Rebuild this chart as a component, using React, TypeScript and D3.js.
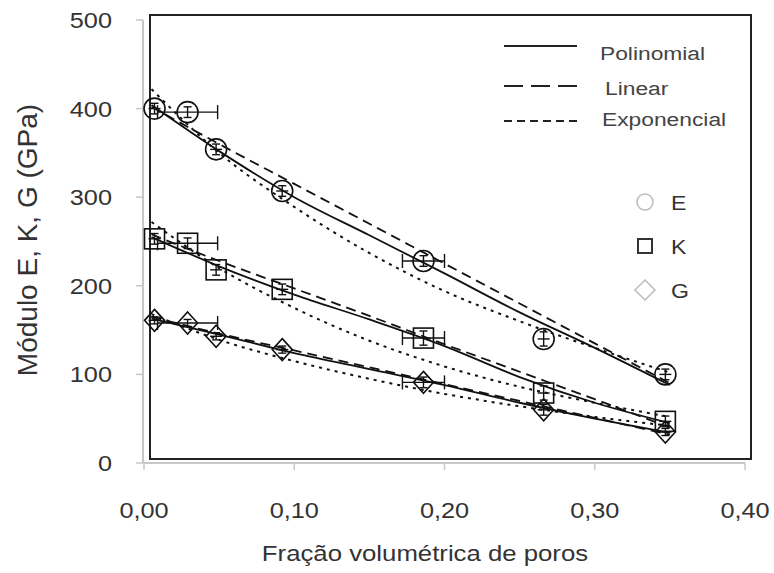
import React from "react";
import * as d3 from "d3";

// measured points
const poreX = [0.007, 0.029, 0.048, 0.092, 0.186, 0.266, 0.347];
const valuesE = [400, 396, 354, 307, 228, 140, 100];
const valuesK = [253, 248, 218, 196, 141, 79, 47];
const valuesG = [161, 158, 143, 128, 91, 60, 35];
const xErrors = [0, 0.02, 0, 0, 0.014, 0, 0];
const yErrorE = [6, 6, 6, 6, 6, 8, 6];
const yErrorK = [6, 6, 6, 6, 8, 8, 6];
const yErrorG = [4, 4, 4, 4, 6, 6, 4];

// fitted curves
const fitX = [0.005, 0.05, 0.1, 0.15, 0.2, 0.25, 0.3, 0.35];
const fitEPoly = [404, 352, 300, 257, 214, 170, 130, 88];
const fitELin = [402, 360, 315, 270, 225, 180, 135, 90];
const fitEExp = [422, 350, 289, 237, 194, 160, 130, 102];
const fitKPoly = [255, 222, 190, 162, 132, 97, 68, 45];
const fitKLin = [258, 228, 197, 166, 134, 103, 72, 40];
const fitKExp = [272, 220, 175, 138, 109, 86, 68, 52];
const fitGPoly = [163, 145, 124, 106, 88, 68, 50, 34];
const fitGLin = [165, 146, 127, 108, 89, 70, 51, 32];
const fitGExp = [168, 139, 115, 95, 78, 64, 52, 42];

const xTicks = [0, 0.1, 0.2, 0.3, 0.4];
const yTicks = [0, 100, 200, 300, 400, 500];
const fitLegend = ["Polinomial", "Linear", "Exponencial"];
const seriesLegend = ["E", "K", "G"];

const W = 774;
const H = 573;
const FONT = "'Liberation Sans', Arial, sans-serif";

function T(props: {
  x: number;
  y: number;
  size: number;
  sx?: number;
  anchor?: string;
  fill?: string;
  children: React.ReactNode;
}) {
  const sx = props.sx ?? 1.15;
  return (
    <text
      transform={`translate(${props.x},${props.y}) scale(${sx},1)`}
      dy="0.36em"
      textAnchor={props.anchor ?? "start"}
      fontSize={props.size}
      fill={props.fill ?? "#333"}
    >
      {props.children}
    </text>
  );
}

export default function App() {
  const x = d3.scaleLinear().domain([0, 0.4]).range([144, 745]);
  const y = d3.scaleLinear().domain([0, 500]).range([463, 20]);
  const line = d3
    .line<number>()
    .x((_, i) => x(fitX[i]))
    .y((d) => y(d))
    .curve(d3.curveMonotoneX);

  const fits = [
    { vals: fitEPoly, dash: undefined },
    { vals: fitELin, dash: "10,6" },
    { vals: fitEExp, dash: "3,5" },
    { vals: fitKPoly, dash: undefined },
    { vals: fitKLin, dash: "10,6" },
    { vals: fitKExp, dash: "3,5" },
    { vals: fitGPoly, dash: undefined },
    { vals: fitGLin, dash: "10,6" },
    { vals: fitGExp, dash: "3,5" },
  ];

  const series = [
    { vals: valuesE, yerr: yErrorE, shape: "circle" },
    { vals: valuesK, yerr: yErrorK, shape: "square" },
    { vals: valuesG, yerr: yErrorG, shape: "diamond" },
  ];

  const marker = (shape: string, cx: number, cy: number, stroke: string, sw: number) => {
    if (shape === "circle")
      return <circle cx={cx} cy={cy} r={10.5} fill="none" stroke={stroke} strokeWidth={sw} />;
    if (shape === "square")
      return <rect x={cx - 10} y={cy - 10} width={20} height={20} fill="none" stroke={stroke} strokeWidth={sw} />;
    return (
      <path
        d={`M${cx},${cy - 11}L${cx + 10},${cy}L${cx},${cy + 11}L${cx - 10},${cy}Z`}
        fill="none"
        stroke={stroke}
        strokeWidth={sw}
      />
    );
  };

  return (
    <svg
      width={W}
      height={H}
      style={{ position: "absolute", left: 0, top: 0, background: "#fff" }}
      fontFamily={FONT}
    >
      {/* gray axes */}
      <line x1={143} y1={y(500)} x2={143} y2={y(0)} stroke="#c8c8c8" strokeWidth={2} />
      <line x1={143} y1={y(0)} x2={x(0.4)} y2={y(0)} stroke="#c8c8c8" strokeWidth={2} />
      {yTicks.map((t) => (
        <g key={"yt" + t}>
          <line x1={136} x2={143} y1={y(t)} y2={y(t)} stroke="#c8c8c8" strokeWidth={1.5} />
          <T x={112} y={y(t)} size={22} anchor="end">
            {t}
          </T>
        </g>
      ))}
      {xTicks.map((t) => (
        <g key={"xt" + t}>
          <line x1={x(t)} x2={x(t)} y1={y(0)} y2={y(0) + 7} stroke="#c8c8c8" strokeWidth={1.5} />
          <T x={x(t)} y={510} size={22} anchor="middle">
            {d3.format(".2f")(t).replace(".", ",")}
          </T>
        </g>
      ))}
      <T x={425} y={553} size={23} sx={1.12} anchor="middle">
        Fração volumétrica de poros
      </T>
      <text
        transform="translate(27,240) rotate(-90)"
        textAnchor="middle"
        dy="0.36em"
        fontSize={28}
        fill="#333"
      >
        Módulo E, K, G (GPa)
      </text>

      {/* plot frame */}
      <rect x={150} y={15} width={601} height={444} fill="none" stroke="#222" strokeWidth={2} />

      {/* fit lines */}
      {fits.map((f, i) => (
        <path
          key={"fit" + i}
          d={line(f.vals) || ""}
          fill="none"
          stroke="#111"
          strokeWidth={f.dash === "3,5" ? 2 : 1.8}
          strokeDasharray={f.dash}
        />
      ))}

      {/* data markers with error bars */}
      {series.map((s, si) =>
        s.vals.map((v, i) => {
          const cx = x(poreX[i]);
          const cy = y(v);
          const xe = xErrors[i];
          const ye = s.yerr[i];
          return (
            <g key={`m${si}-${i}`} stroke="#111" strokeWidth={1.4}>
              {marker(s.shape, cx, cy, "#111", 1.6)}
              <line x1={cx} x2={cx} y1={y(v - ye)} y2={y(v + ye)} />
              <line x1={cx - 4} x2={cx + 4} y1={y(v - ye)} y2={y(v - ye)} />
              <line x1={cx - 4} x2={cx + 4} y1={y(v + ye)} y2={y(v + ye)} />
              {xe > 0 ? (
                <g>
                  <line x1={x(poreX[i] - xe)} x2={x(poreX[i] + xe)} y1={cy} y2={cy} />
                  <line x1={x(poreX[i] - xe)} x2={x(poreX[i] - xe)} y1={cy - 7} y2={cy + 7} />
                  <line x1={x(poreX[i] + xe)} x2={x(poreX[i] + xe)} y1={cy - 7} y2={cy + 7} />
                </g>
              ) : (
                <line x1={cx - 6} x2={cx + 6} y1={cy} y2={cy} />
              )}
            </g>
          );
        })
      )}

      {/* fit legend */}
      {fitLegend.map((name, i) => {
        const ly = [46, 86, 121][i];
        const dash = [undefined, "19,8", "8,5"][i];
        return (
          <g key={"fl" + i}>
            <line x1={504} x2={577} y1={ly} y2={ly} stroke="#222" strokeWidth={2} strokeDasharray={dash} />
            <T x={[600, 605, 602][i]} y={[53, 88, 119][i]} size={19} sx={1.2} fill="#444">
              {name}
            </T>
          </g>
        );
      })}

      {/* series legend */}
      {seriesLegend.map((name, i) => {
        const ly = [202, 246, 290][i];
        const shape = ["circle", "square", "diamond"][i];
        const col = ["#bbb", "#333", "#bbb"][i];
        return (
          <g key={"sl" + i}>
            {shape === "circle" && <circle cx={645} cy={ly} r={8} fill="none" stroke={col} strokeWidth={1.5} />}
            {shape === "square" && (
              <rect x={638} y={ly - 7} width={14} height={14} fill="none" stroke={col} strokeWidth={2} />
            )}
            {shape === "diamond" && (
              <path
                d={`M645,${ly - 10}L655,${ly}L645,${ly + 10}L635,${ly}Z`}
                fill="none"
                stroke={col}
                strokeWidth={1.5}
              />
            )}
            <T x={671} y={ly} size={21} sx={1.1}>
              {name}
            </T>
          </g>
        );
      })}
    </svg>
  );
}
